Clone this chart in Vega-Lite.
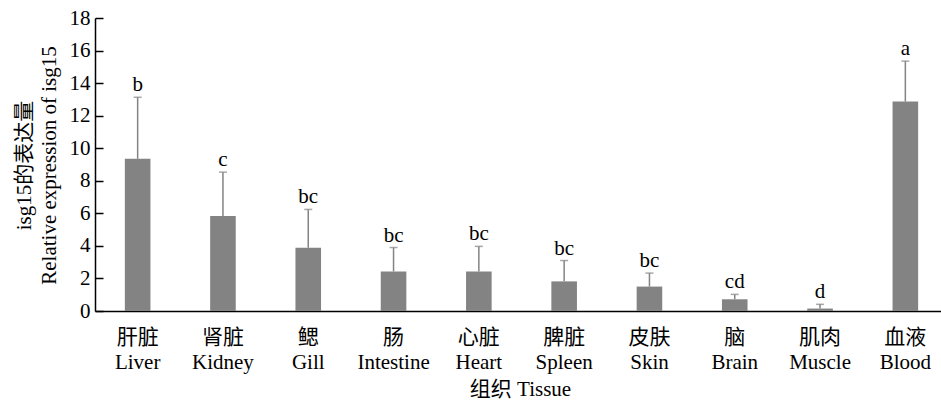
{
  "$schema": "https://vega.github.io/schema/vega-lite/v6.json",
  "autosize": "none",
  "width": 853,
  "height": 293,
  "padding": {"left": 95, "top": 18, "right": 0, "bottom": 91},
  "background": "white",
  "config": {
    "view": {"stroke": null},
    "font": "Liberation Serif, Noto Sans CJK SC",
    "axis": {
      "labelFont": "Liberation Serif, Noto Sans CJK SC",
      "titleFont": "Liberation Serif, Noto Sans CJK SC",
      "labelColor": "black",
      "titleColor": "black",
      "titleFontWeight": "normal",
      "domainColor": "black",
      "tickColor": "black",
      "domainWidth": 1.5,
      "tickWidth": 1.5,
      "grid": false
    },
    "axisY": {
      "labelOverlap": false,
      "titleFontSize": 21,
      "titleLineHeight": 25,
      "titleX": -82,
      "titleY": 147,
      "titleAngle": -90,
      "titleAlign": "center",
      "titleBaseline": "top",
      "labelFontSize": 21,
      "tickSize": -8,
      "labelPadding": 13,
      "labelBaseline": "middle"
    }
  },
  "data": {
    "values": [
      {"tissue": "肝脏|Liver", "value": 9.35, "upper": 13.13, "letter": "b"},
      {"tissue": "肾脏|Kidney", "value": 5.83, "upper": 8.53, "letter": "c"},
      {"tissue": "鳃|Gill", "value": 3.89, "upper": 6.24, "letter": "bc"},
      {"tissue": "肠|Intestine", "value": 2.43, "upper": 3.9, "letter": "bc"},
      {"tissue": "心脏|Heart", "value": 2.43, "upper": 3.97, "letter": "bc"},
      {"tissue": "脾脏|Spleen", "value": 1.82, "upper": 3.1, "letter": "bc"},
      {"tissue": "皮肤|Skin", "value": 1.5, "upper": 2.33, "letter": "bc"},
      {"tissue": "脑|Brain", "value": 0.72, "upper": 1.02, "letter": "cd"},
      {"tissue": "肌肉|Muscle", "value": 0.15, "upper": 0.41, "letter": "d"},
      {"tissue": "血液|Blood", "value": 12.87, "upper": 15.35, "letter": "a"}
    ]
  },
  "encoding": {
    "x": {
      "field": "tissue",
      "type": "nominal",
      "sort": null,
      "scale": {"paddingInner": 0.7, "paddingOuter": 0.35},
      "axis": {
        "title": "组织 Tissue",
        "titleFontSize": 21,
        "titleX": 425,
        "titleY": 84,
        "titleAnchor": null,
        "titleAlign": "center",
        "titleBaseline": "alphabetic",
        "labelExpr": "split(datum.label, '|')",
        "labelFontSize": 21,
        "labelLineHeight": 25,
        "labelAngle": 0,
        "labelPadding": 15,
        "ticks": false,
        "labelBaseline": "top"
      }
    }
  },
  "layer": [
    {
      "mark": {"type": "bar", "color": "#838383"},
      "encoding": {
        "y": {
          "field": "value",
          "type": "quantitative",
          "scale": {"domain": [0, 18], "nice": false},
          "axis": {"values": [0, 2, 4, 6, 8, 10, 12, 14, 16, 18], "title": ["isg15的表达量", "Relative expression of isg15"]}
        }
      }
    },
    {
      "mark": {"type": "rule", "color": "#838383", "strokeWidth": 1.5},
      "encoding": {
        "y": {"field": "value", "type": "quantitative", "axis": {"values": [0, 2, 4, 6, 8, 10, 12, 14, 16, 18], "title": ["isg15的表达量", "Relative expression of isg15"]}},
        "y2": {"field": "upper"}
      }
    },
    {
      "mark": {"type": "tick", "color": "#838383", "thickness": 1.5, "size": 8, "orient": "horizontal"},
      "encoding": {
        "y": {"field": "upper", "type": "quantitative", "axis": {"values": [0, 2, 4, 6, 8, 10, 12, 14, 16, 18], "title": ["isg15的表达量", "Relative expression of isg15"]}}
      }
    },
    {
      "mark": {"type": "text", "fontSize": 21, "baseline": "alphabetic", "dy": -6, "color": "black", "font": "Liberation Serif"},
      "encoding": {
        "y": {"field": "upper", "type": "quantitative", "axis": {"values": [0, 2, 4, 6, 8, 10, 12, 14, 16, 18], "title": ["isg15的表达量", "Relative expression of isg15"]}},
        "text": {"field": "letter"}
      }
    }
  ]
}
